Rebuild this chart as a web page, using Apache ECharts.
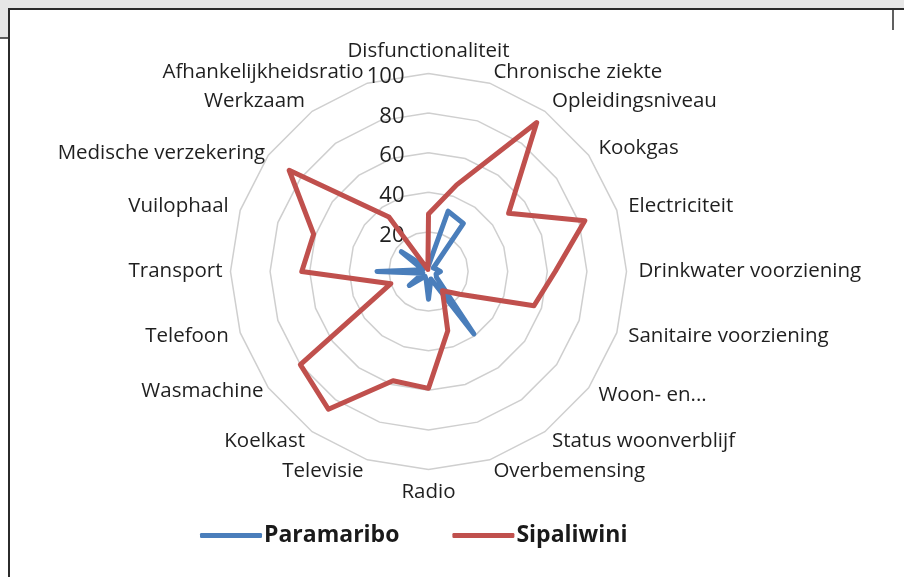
<!DOCTYPE html>
<html>
<head>
<meta charset="utf-8">
<script src="https://cdn.jsdelivr.net/npm/echarts@6/dist/echarts.min.js"></script>
<style>
html,body{margin:0;padding:0;background:#fff;}
#c{width:904px;height:577px;}
</style>
</head>
<body>
<div id="c"></div>
<script>
// Categories (clockwise from top)
const categories = ['Disfunctionaliteit','Chronische ziekte','Opleidingsniveau','Kookgas','Electriciteit','Drinkwater voorziening','Sanitaire voorziening','Woon- en...','Status woonverblijf','Overbemensing','Radio','Televisie','Koelkast','Wasmachine','Telefoon','Transport','Vuilophaal','Medische verzekering','Werkzaam','Afhankelijkheidsratio'];
const paramaribo = [3, 32, 30, 3, 4, 6, 4, 5, 39, 4, 14, 4, 3, 12, 3, 26, 3, 17, 3, 2];
const sipaliwini = [29, 46, 93, 50, 83, 64, 56, 19.5, 12, 31.5, 59, 58, 86, 80, 20, 64, 61, 87, 34, 1];
const seriesNames = ['Paramaribo', 'Sipaliwini'];
const tickMin = 0, tickMax = 100, tickStep = 20;

const FONT = 'Open Sans';
// echarts radar runs counter-clockwise; reorder so the lists read clockwise from the top
function order(arr) {
  return [arr[0]].concat(arr.slice(1).reverse());
}
// per-category label gap (style only)
const gapFor = { 'Medische verzekering': 4, 'Wasmachine': 6, 'Transport': 8 };

const indicator = order(categories).map((n, i) => {
  const o = { name: n, min: tickMin, max: tickMax };
  if (gapFor[n] !== undefined) o.nameGap = gapFor[n];
  if (i === 0) {
    o.axisLabel = {
      show: true, showMinLabel: false, margin: 24,
      formatter: '{v|{value}}',
      rich: { v: { fontSize: 22, color: '#1f1f1f', fontFamily: FONT, padding: [7, 0, 0, 0] } }
    };
  }
  return o;
});

const chart = echarts.init(document.getElementById('c'), null, { renderer: 'canvas' });
chart.setOption({
  animation: false,
  backgroundColor: '#fff',
  graphic: [
    { type: 'rect', shape: { x: 0, y: 0, width: 904, height: 8 }, style: { fill: '#e6e6e6' }, silent: true },
    { type: 'rect', shape: { x: 0, y: 0, width: 8, height: 38 }, style: { fill: '#e6e6e6' }, silent: true },
    { type: 'line', shape: { x1: 8, y1: 9, x2: 904, y2: 9 }, style: { stroke: '#2b2b2b', lineWidth: 2 }, silent: true },
    { type: 'line', shape: { x1: 9, y1: 8, x2: 9, y2: 577 }, style: { stroke: '#2b2b2b', lineWidth: 2 }, silent: true },
    { type: 'line', shape: { x1: 0, y1: 38, x2: 8, y2: 38 }, style: { stroke: '#2b2b2b', lineWidth: 1.5 }, silent: true },
    { type: 'line', shape: { x1: 893, y1: 8, x2: 893, y2: 30 }, style: { stroke: '#2b2b2b', lineWidth: 1.5 }, silent: true }
  ],
  legend: {
    data: seriesNames,
    left: 195,
    top: 519,
    icon: 'roundRect',
    itemWidth: 62,
    itemHeight: 5,
    itemGap: 53,
    textStyle: { fontFamily: FONT, fontSize: 23, fontWeight: 'bold', color: '#1a1a1a', padding: [0, 0, 0, -3] }
  },
  radar: {
    center: [428.5, 271.5],
    radius: 198,
    startAngle: 90,
    shape: 'polygon',
    splitNumber: 5,
    indicator: indicator,
    nameGap: 12,
    axisName: { color: '#1f1f1f', fontSize: 20.5, fontFamily: FONT },
    axisLine: { show: false },
    axisTick: { show: false },
    axisLabel: { show: false },
    splitLine: { lineStyle: { color: '#cfcfcf', width: 1.5 } },
    splitArea: { show: false }
  },
  series: [{
    type: 'radar',
    symbol: 'none',
    data: [
      { name: seriesNames[0], value: order(paramaribo), lineStyle: { color: '#4a7ebb', width: 5, cap: 'round', join: 'round' }, itemStyle: { color: '#4a7ebb' } },
      { name: seriesNames[1], value: order(sipaliwini), lineStyle: { color: '#c0504d', width: 5, cap: 'round', join: 'round' }, itemStyle: { color: '#c0504d' } }
    ]
  }]
});
</script>
</body>
</html>
